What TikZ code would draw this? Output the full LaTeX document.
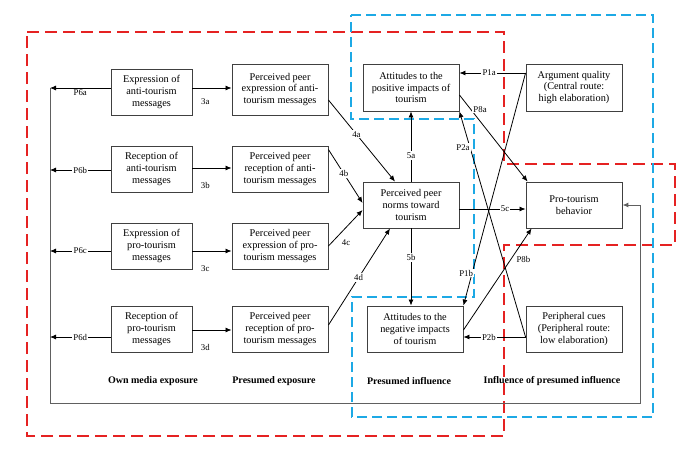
\documentclass[tikz,border=0pt]{standalone}
\usepackage{fontspec}
\setmainfont{Liberation Serif}
\usetikzlibrary{arrows.meta,calc}
\definecolor{dred}{HTML}{E52222}
\definecolor{dblue}{HTML}{1DA9E5}
\definecolor{boxgray}{HTML}{404040}
\definecolor{framegray}{HTML}{606060}
\begin{document}
\begin{tikzpicture}[x=1pt,y=-1pt,
  bx/.style={draw=boxgray, line width=0.9pt, align=center, inner sep=0pt, font=\fontsize{10.3}{11.7}\selectfont},
  conn/.style={draw=black, line width=0.8pt, -{Latex[length=6pt,width=5pt]}},
  lab/.style={fill=white, inner sep=1.2pt, font=\fontsize{8.8}{10}\selectfont},
  nlab/.style={inner sep=1.2pt, font=\fontsize{8.8}{10}\selectfont},
  sec/.style={font=\fontsize{10}{12}\selectfont\bfseries},
  redzone/.style={draw=dred, line width=2.3pt, dash pattern=on 12pt off 6pt},
  bluezone/.style={draw=dblue, line width=2.1pt, dash pattern=on 10pt off 5pt},
  frame/.style={draw=framegray, line width=1pt},
]
\useasboundingbox (0,0) rectangle (682,450);

% dashed zones
\draw[redzone] (27,32) -- (504,32) -- (504,164) -- (675,164) -- (675,245) -- (504,245) -- (504,436) -- (27,436) -- cycle;
\draw[bluezone] (351,15) -- (653,15) -- (653,417) -- (352,417) -- (352,297) -- (474,297) -- (474,119) -- (351,119) -- cycle;

% boxes
\node[bx, minimum width=81pt, minimum height=46pt] (e1) at (151.5,92) {Expression of\\anti-tourism\\messages};
\node[bx, minimum width=96pt, minimum height=51pt] (p1) at (280,89.5) {Perceived peer\\expression of anti-\\tourism messages};
\node[bx, minimum width=81pt, minimum height=46pt] (e2) at (151.5,169) {Reception of\\anti-tourism\\messages};
\node[bx, minimum width=96pt, minimum height=46pt] (p2) at (280,169) {Perceived peer\\reception of anti-\\tourism messages};
\node[bx, minimum width=81pt, minimum height=46pt] (e3) at (151.5,246) {Expression of\\pro-tourism\\messages};
\node[bx, minimum width=96pt, minimum height=46pt] (p3) at (280,246) {Perceived peer\\expression of pro-\\tourism messages};
\node[bx, minimum width=81pt, minimum height=46pt] (e4) at (151.5,329) {Reception of\\pro-tourism\\messages};
\node[bx, minimum width=96pt, minimum height=46pt] (p4) at (280,329) {Perceived peer\\reception of pro-\\tourism messages};

\node[bx, minimum width=96pt, minimum height=47pt] (pos) at (411,87.5) {Attitudes to the\\positive impacts of\\tourism};
\node[bx, minimum width=96pt, minimum height=46pt] (norms) at (411,205) {Perceived peer\\norms toward\\tourism};
\node[bx, minimum width=96pt, minimum height=46pt] (neg) at (415,329) {Attitudes to the\\negative impacts\\of tourism};
\node[bx, minimum width=96pt, minimum height=47pt] (arg) at (574,87.5) {Argument quality\\(Central route:\\high elaboration)};
\node[bx, minimum width=96pt, minimum height=46pt] (pro) at (574,205) {Pro-tourism\\behavior};
\node[bx, minimum width=96pt, minimum height=46pt] (per) at (574,329) {Peripheral cues\\(Peripheral route:\\low elaboration)};

% free-end coordinates
\coordinate (c6a) at (50,88);
\coordinate (cBL) at (50,403);
\coordinate (cBR) at (640,403);

% frame line into pro-tourism behavior
\draw[frame, -{Latex[length=6pt,width=5pt]}] (c6a) -- (cBL) -- (cBR) -- (cBR |- pro.east) -- (pro.east);

% P6 arrows
\draw[conn] ([yshift=4pt]e1.west) -- node[lab, yshift=-5pt]{P6a} (c6a);
\draw[conn] ([yshift=-1pt]e2.west) -- node[lab]{P6b} ([yshift=-1pt]e2.west -| c6a);
\draw[conn] ([yshift=-5pt]e3.west) -- node[lab]{P6c} ([yshift=-5pt]e3.west -| c6a);
\draw[conn] ([yshift=-8pt]e4.west) -- node[lab]{P6d} ([yshift=-8pt]e4.west -| c6a);

% 3a-3d
\draw[conn] ([yshift=4pt]e1.east) -- node[nlab, pos=0.33, below=9pt]{3a} ([yshift=4pt]e1.east -| p1.west);
\draw[conn] ([yshift=1pt]e2.east) -- node[nlab, pos=0.33, below=13pt]{3b} ([yshift=1pt]e2.east -| p2.west);
\draw[conn] ([yshift=-5pt]e3.east) -- node[nlab, pos=0.33, below=13pt]{3c} ([yshift=-5pt]e3.east -| p3.west);
\draw[conn] ([yshift=-1pt]e4.east) -- node[nlab, pos=0.33, below=13pt]{3d} ([yshift=-1pt]e4.east -| p4.west);

% 4a-4d
\draw[conn] ([yshift=-10.5pt]p1.east) -- node[lab, pos=0.42]{4a} ([xshift=-16pt]norms.north);
\draw[conn] ([yshift=-4pt]p2.north east) -- node[lab, pos=0.45]{4b} ([yshift=2pt]norms.west);
\draw[conn] (p3.east) -- ([yshift=-5pt]norms.west);
\node[nlab] (l4c) at (346,243) {4c};
\draw[conn] ([yshift=4pt]p4.east) -- node[lab, pos=0.49]{4d} ([xshift=-21pt]norms.south);

% 5a-5c
\draw[conn] (norms.north) -- node[lab, pos=0.37]{5a} (pos.south);
\draw[conn] (norms.south) -- node[lab, pos=0.38]{5b} (norms.south |- neg.north);
\draw[conn] ([yshift=-4pt]norms.east) -- node[lab, pos=0.69]{5c} ([yshift=-4pt]norms.east -| pro.west);

% P paths
\draw[conn] ([yshift=14.5pt]arg.west) -- node[lab, pos=0.55]{P1a} ([yshift=14.5pt]arg.west -| pos.east);
\draw[conn] ([yshift=14.5pt]arg.west) -- node[lab, pos=0.86, xshift=-6pt]{P1b} (neg.north east);
\draw[conn] ([yshift=-8pt]per.west) -- node[lab, pos=0.84, xshift=-7pt]{P2a} (pos.south east);
\draw[conn] ([yshift=-8pt]per.west) -- node[lab, pos=0.59]{P2b} ([yshift=-8pt]per.west -| neg.east);
\draw[conn] ([yshift=-7.5pt]pos.east) -- node[lab, pos=0.2, xshift=7pt, yshift=3pt]{P8a} ([xshift=2pt]pro.north west);
\draw[conn] ([yshift=-1pt]neg.east) -- node[lab, pos=0.69, xshift=13pt]{P8b} ([xshift=6pt]pro.south west);

% section labels
\node[sec] (s1) at (153,381) {Own media exposure};
\node[sec] (s2) at (274,381) {Presumed exposure};
\node[sec] (s3) at (409,381) {Presumed influence};
\node[sec] (s4) at (552,381) {Influence of presumed influence};
\end{tikzpicture}
\end{document}
